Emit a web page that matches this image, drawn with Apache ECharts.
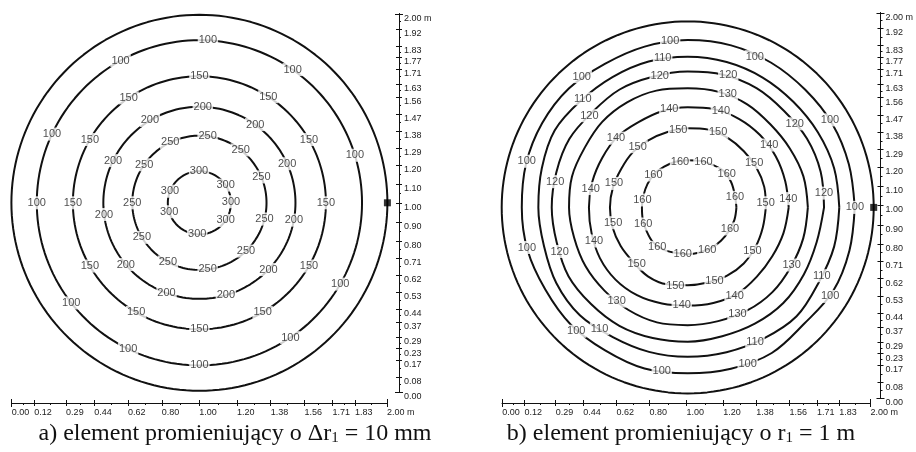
<!DOCTYPE html>
<html><head><meta charset="utf-8">
<script src="https://cdn.jsdelivr.net/npm/echarts@6/dist/echarts.min.js"></script>
<style>html,body{margin:0;padding:0;background:#fff}#c{width:916px;height:452px}</style>
</head><body><div id="c"></div>
<script>
// ---- tick labels (m) ----
var xTicks = [0, 0.12, 0.29, 0.44, 0.62, 0.80, 1.00, 1.20, 1.38, 1.56, 1.71, 1.83, 2.00];
var yTicks = [0, 0.08, 0.17, 0.23, 0.29, 0.37, 0.44, 0.53, 0.62, 0.71, 0.80, 0.90, 1.00, 1.10, 1.20, 1.29, 1.38, 1.47, 1.56, 1.63, 1.71, 1.77, 1.83, 1.92, 2.00];
var endTicks = [0, 2.00];

// ---- panel a: circular contours (radius in m from centre) ----
var levelsA = [100, 150, 200, 250, 300];
var radiiA = [0.865, 0.673, 0.511, 0.357, 0.168];
// label angles (deg, counter-clockwise from east) for each level
var labA100 = [87, 119, 55, 155, 17, 180, 218, 330, 244, 304, 270];
var labA150 = [90, 124, 57, 150, 30, 180, 0, 210, 330, 240, 300, 270];
var labA200 = [121, 54.5, 24, 349.6, 316, 286, 250, 220, 187, 154, 88];
var labA250 = [83, 115.8, 52, 145.5, 22.7, 180, 346, 211, 314, 242, 277];
var labA300 = [90.7, 34, 2, 326, 158.5, 196.5, 266];

// ---- panel b: contour radius (m) every 15 deg starting at east ----
var anglesB = [0, 15, 30, 45, 60, 75, 90, 105, 120, 135, 150, 165, 180, 195, 210, 225, 240, 255, 270, 285, 300, 315, 330, 345];
var levelsB = [100, 110, 120, 130, 140, 150, 160];
var rB100 = [0.898,0.897,0.898,0.894,0.898,0.902,0.900,0.895,0.891,0.904,0.904,0.900,0.892,0.891,0.884,0.890,0.888,0.897,0.892,0.898,0.904,0.885,0.902,0.900];
var rB110 = [0.815,0.815,0.808,0.803,0.806,0.809,0.810,0.812,0.809,0.812,0.826,0.812,0.803,0.800,0.815,0.820,0.805,0.804,0.803,0.806,0.815,0.828,0.812,0.815];
var rB120 = [0.733,0.740,0.740,0.733,0.740,0.738,0.730,0.727,0.732,0.725,0.735,0.731,0.731,0.729,0.740,0.735,0.735,0.727,0.722,0.717,0.722,0.727,0.721,0.718];
var rB130 = [0.646,0.644,0.634,0.630,0.640,0.643,0.640,0.650,0.652,0.650,0.640,0.644,0.638,0.632,0.634,0.633,0.637,0.640,0.633,0.633,0.640,0.644,0.640,0.643];
var rB140 = [0.543,0.543,0.547,0.550,0.550,0.547,0.538,0.535,0.529,0.536,0.531,0.531,0.531,0.535,0.545,0.549,0.545,0.535,0.528,0.532,0.535,0.526,0.525,0.533];
var rB150 = [0.420,0.426,0.427,0.427,0.431,0.433,0.426,0.420,0.418,0.418,0.413,0.416,0.418,0.418,0.416,0.415,0.428,0.428,0.418,0.418,0.424,0.426,0.422,0.418];
var rB160 = [0.262,0.262,0.270,0.275,0.265,0.259,0.253,0.254,0.253,0.254,0.250,0.246,0.246,0.250,0.255,0.264,0.262,0.253,0.252,0.251,0.252,0.253,0.255,0.260];
// label positions [r (m), angle (deg)]
var labB100 = [[0.902,96],[0.887,66],[0.905,129],[0.898,31.6],[0.900,164],[0.899,0],[0.891,194],[0.896,228],[0.892,261],[0.899,291],[0.903,328]];
var labB110 = [[0.816,99.5],[0.812,134],[0.806,234],[0.808,296.6],[0.809,333]];
var labB120 = [[0.724,102],[0.745,73],[0.723,137],[0.730,38],[0.726,169],[0.737,6],[0.728,199]];
var labB130 = [[0.645,70.5],[0.632,232.8],[0.633,295],[0.639,331]];
var labB140 = [[0.538,100.6],[0.548,71],[0.536,136],[0.552,37.4],[0.531,169],[0.543,5],[0.535,199.7],[0.537,298],[0.526,266.5]];
var labB150 = [[0.419,97],[0.436,68],[0.423,129.5],[0.431,34],[0.417,162],[0.420,3.4],[0.409,191.6],[0.420,326],[0.410,228],[0.426,261],[0.422,290]];
var labB160 = [[0.249,99.6],[0.260,71],[0.278,41],[0.254,136.7],[0.260,12],[0.247,170.7],[0.255,200.5],[0.255,333],[0.270,232.7],[0.252,264],[0.252,294.7]];

var outerR = 1.0;
var markerPos = [1.0, 0];

// ---------------------------------------------
var chart = echarts.init(document.getElementById('c'), null, {renderer: 'canvas'});
var FONT = 'Liberation Sans, Arial, sans-serif';
var SERIF = 'Liberation Serif, Times New Roman, serif';
var INK = '#111';
var PAD = 1.03; // polar area a little larger than the outer circle so its stroke is not clipped

function mids(arr) {
  var m = [];
  for (var i = 0; i < arr.length - 1; i++) m.push((arr[i] + arr[i + 1]) / 2);
  return m;
}
var xMinor = mids(xTicks), yMinor = mids(yTicks);

function circle(r) {
  var d = [];
  for (var a = 0; a <= 360; a += 2) d.push([r, a]);
  return d;
}
function closed(rs) {
  var d = anglesB.map(function (a, i) { return [rs[i], a]; });
  d.push([rs[0], 360]);
  return d;
}
function lineSeries(pi, data, smooth) {
  return {type: 'line', coordinateSystem: 'polar', polarIndex: pi, data: data, showSymbol: false, clip: false,
    smooth: smooth || false, silent: true, lineStyle: {color: INK, width: 2}, z: 2, animation: false};
}
function labelSeries(pi, data, text) {
  return {type: 'scatter', coordinateSystem: 'polar', polarIndex: pi, data: data, symbolSize: 0.1, clip: false,
    silent: true, z: 5, animation: false,
    label: {show: true, position: 'inside', formatter: String(text), color: '#222', fontFamily: FONT,
      fontSize: 11, backgroundColor: '#fff', padding: [1, 1]}};
}
function fmt(v) {
  var s = (Math.round(v * 100) / 100).toFixed(2);
  return Math.abs(v - 2) < 1e-6 ? s + ' m' : s;
}

var series = [];
// panel a
series.push(lineSeries(0, circle(outerR)));
radiiA.forEach(function (r) { series.push(lineSeries(0, circle(r))); });
var labsA = [labA100, labA150, labA200, labA250, labA300];
labsA.forEach(function (angs, i) {
  series.push(labelSeries(0, angs.map(function (a) { return [radiiA[i], a]; }), levelsA[i]));
});
// panel b
series.push(lineSeries(1, circle(outerR)));
[rB100, rB110, rB120, rB130, rB140, rB150, rB160].forEach(function (rs) { series.push(lineSeries(1, closed(rs), 0.35)); });
[labB100, labB110, labB120, labB130, labB140, labB150, labB160].forEach(function (d, i) {
  series.push(labelSeries(1, d, levelsB[i]));
});
// markers
[0, 1].forEach(function (pi) {
  series.push({type: 'scatter', coordinateSystem: 'polar', polarIndex: pi, data: [markerPos], symbol: 'rect', clip: false,
    symbolSize: 7, itemStyle: {color: '#000'}, z: 6, silent: true, animation: false});
});

function ax(dim, gi, off, ticks, len, inside, labels) {
  var o = {gridIndex: gi, type: 'value', min: 0, max: 2, position: dim === 'x' ? 'bottom' : 'right', offset: off,
    axisLine: {show: true, onZero: false, lineStyle: {color: INK, width: 1}},
    axisTick: {show: true, customValues: ticks, length: len, inside: inside, lineStyle: {color: INK}},
    axisLabel: {show: labels, customValues: ticks, formatter: fmt, margin: 5,
      fontSize: 9, fontFamily: FONT, color: '#222'},
    splitLine: {show: false}};
  if (dim === 'x') o.axisLabel.align = 'left'; else o.axisLabel.verticalAlign = 'top';
  return o;
}
function axisSet(dim, gi, off, major) {
  return [
    ax(dim, gi, off, major, 3, false, true),
    ax(dim, gi, off, major, 3, true, false),
    ax(dim, gi, off, dim === 'x' ? xMinor : yMinor, 2, false, false),
    ax(dim, gi, off, endTicks, 4, false, false),
    ax(dim, gi, off, endTicks, 4, true, false)
  ];
}

var rich = {
  a: {fontFamily: SERIF, fontSize: 24, fontWeight: 'normal', color: '#111'},
  s: {fontFamily: SERIF, fontSize: 15, fontWeight: 'normal', color: '#111', padding: [10, 0, 0, 0]}
};

chart.setOption({
  backgroundColor: '#fff',
  animation: false,
  title: [
    {text: '{a|a) element promieniujący o Δr}{s|1}{a| = 10 mm}', left: 230, top: 416, textAlign: 'center',
      textStyle: {fontWeight: 'normal', rich: rich}},
    {text: '{a|b) element promieniujący o r}{s|1}{a| = 1 m}', left: 676, top: 416, textAlign: 'center',
      textStyle: {fontWeight: 'normal', rich: rich}}
  ],
  grid: [
    {left: 11.7, width: 375.3, top: 14, height: 378},
    {left: 502.3, width: 372, top: 13, height: 385}
  ],
  xAxis: axisSet('x', 0, 11, xTicks).concat(axisSet('x', 1, 5, xTicks)),
  yAxis: axisSet('y', 0, 12, yTicks).concat(axisSet('y', 1, 10, yTicks)),
  polar: [
    {center: [199.4, 202.8], radius: 188 * PAD},
    {center: [687.7, 207.4], radius: 186 * PAD}
  ],
  angleAxis: [
    {polarIndex: 0, type: 'value', min: 0, max: 360, startAngle: 0, clockwise: false, show: false},
    {polarIndex: 1, type: 'value', min: 0, max: 360, startAngle: 0, clockwise: false, show: false}
  ],
  radiusAxis: [
    {polarIndex: 0, type: 'value', min: 0, max: PAD, show: false},
    {polarIndex: 1, type: 'value', min: 0, max: PAD, show: false}
  ],
  series: series
});
</script></body></html>
